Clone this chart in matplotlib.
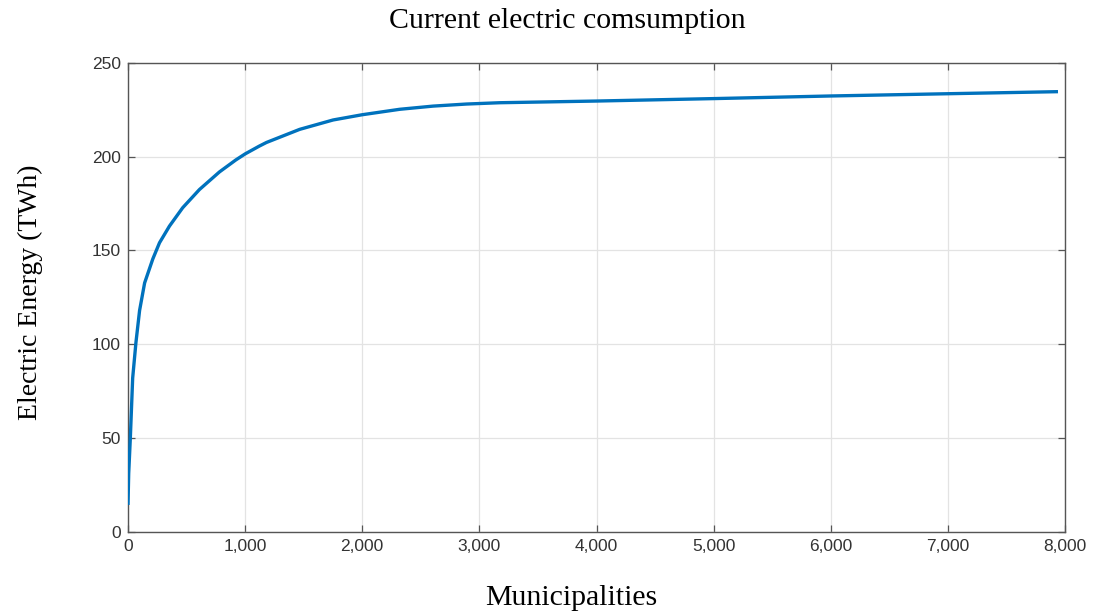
import matplotlib
matplotlib.use("Agg")
import matplotlib.pyplot as plt
from matplotlib import font_manager
from matplotlib.ticker import FuncFormatter

municipalities = [0, 6, 20, 40, 68, 99, 142, 212, 269, 354, 467, 610, 781, 921,
                  1000, 1119, 1182, 1466, 1751, 2000, 2320, 2605, 2890, 3174,
                  4000, 5000, 6000, 7000, 7940]
energy_twh = [14.3, 31.0, 50.0, 82.0, 101.0, 118.0, 132.7, 145.5, 154.1, 163.0,
              172.8, 182.5, 191.9, 198.3, 201.5, 205.6, 207.6, 214.6, 219.6,
              222.4, 225.3, 227.0, 228.1, 228.8, 229.7, 231.0, 232.4, 233.6, 234.7]
x_ticks = [0, 1000, 2000, 3000, 4000, 5000, 6000, 7000, 8000]
y_ticks = [0, 50, 100, 150, 200, 250]

names = {f.name for f in font_manager.fontManager.ttflist}
tick_font = "Liberation Sans Narrow" if "Liberation Sans Narrow" in names else "Liberation Sans"
serif = "Liberation Serif"

fig = plt.figure(figsize=(10.93, 6.15), dpi=100)
ax = fig.add_axes([0.1171, 0.1354, 0.8573, 0.7622])

ax.plot(municipalities, energy_twh, color="#0072BD", linewidth=2.4,
        solid_joinstyle="round", solid_capstyle="butt", zorder=3)

ax.set_xlim(0, 8000)
ax.set_ylim(0, 250)
ax.set_xticks(x_ticks)
ax.set_yticks(y_ticks)
ax.xaxis.set_major_formatter(FuncFormatter(lambda v, p: f"{int(v):,}"))
ax.grid(True, color="#e3e3e3", linewidth=0.9)
ax.set_axisbelow(True)
ax.tick_params(direction="in", top=True, right=True, length=5, width=0.9,
               color="#555555", labelcolor="#333333", labelsize=12.5, pad=5)
for lab in ax.get_xticklabels() + ax.get_yticklabels():
    lab.set_family(tick_font)
for s in ax.spines.values():
    s.set_color("#555555")
    s.set_linewidth(1.0)

fig.text(0.519, 0.966, "Current electric comsumption", ha="center", va="center",
         family=serif, fontsize=21.5)
fig.text(0.523, 0.028, "Municipalities", ha="center", va="center",
         family=serif, fontsize=21.5)
fig.text(0.028, 0.525, "Electric Energy (TWh)", ha="center", va="center",
         rotation=90, family=serif, fontsize=20)

fig.savefig("out.png", dpi=100, facecolor="white")
